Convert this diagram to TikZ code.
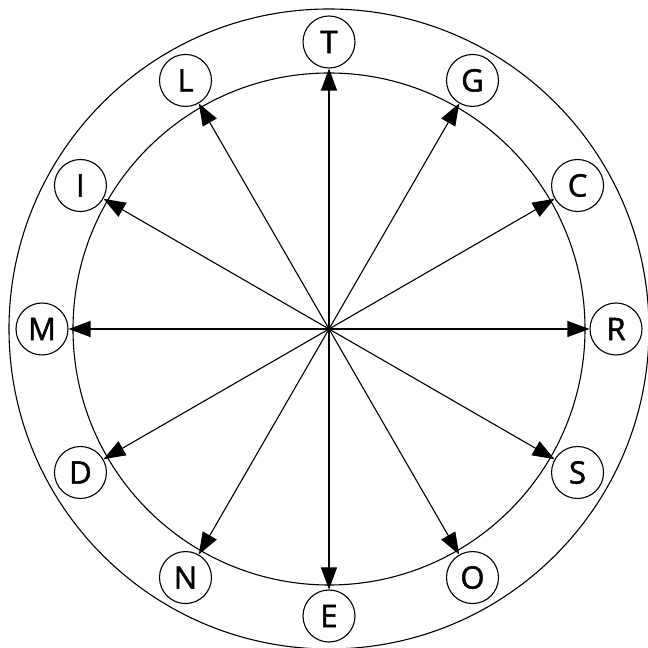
\documentclass[tikz,border=0pt]{standalone}
\usepackage{fontspec}
\setmainfont[BoldFont={Open Sans},BoldFeatures={FakeBold=1.5}]{Open Sans}
\usetikzlibrary{arrows.meta,calc}
\begin{document}
\begin{tikzpicture}[x=1pt,y=1pt,
  lbl/.style={circle,draw,line width=1.1pt,minimum size=52pt,inner sep=0pt,font=\fontsize{31}{33}\selectfont\bfseries,fill=white},
  ray/.style={line width=1.1pt,-{Triangle[length=22pt,width=16pt]}},
  ring/.style={line width=1.1pt}]
\useasboundingbox (0,0) rectangle (648,648);
\coordinate (o) at (329,319);
\draw[ring] (o) circle (320);
\draw[ring] (o) circle (256);
\foreach \n/\a in {T/90,G/60,C/30,R/0,S/-30,O/-60,E/-90,N/-120,D/-150,M/180,I/150,L/120}{
  \node[lbl] (\n) at ($(o)+(\a:287)$) {\n};
}
\foreach \n in {T,G,C,R,S,O,E,N,D,M,I,L}{
  \draw[ray] (o) -- (\n);
}
\end{tikzpicture}
\end{document}
